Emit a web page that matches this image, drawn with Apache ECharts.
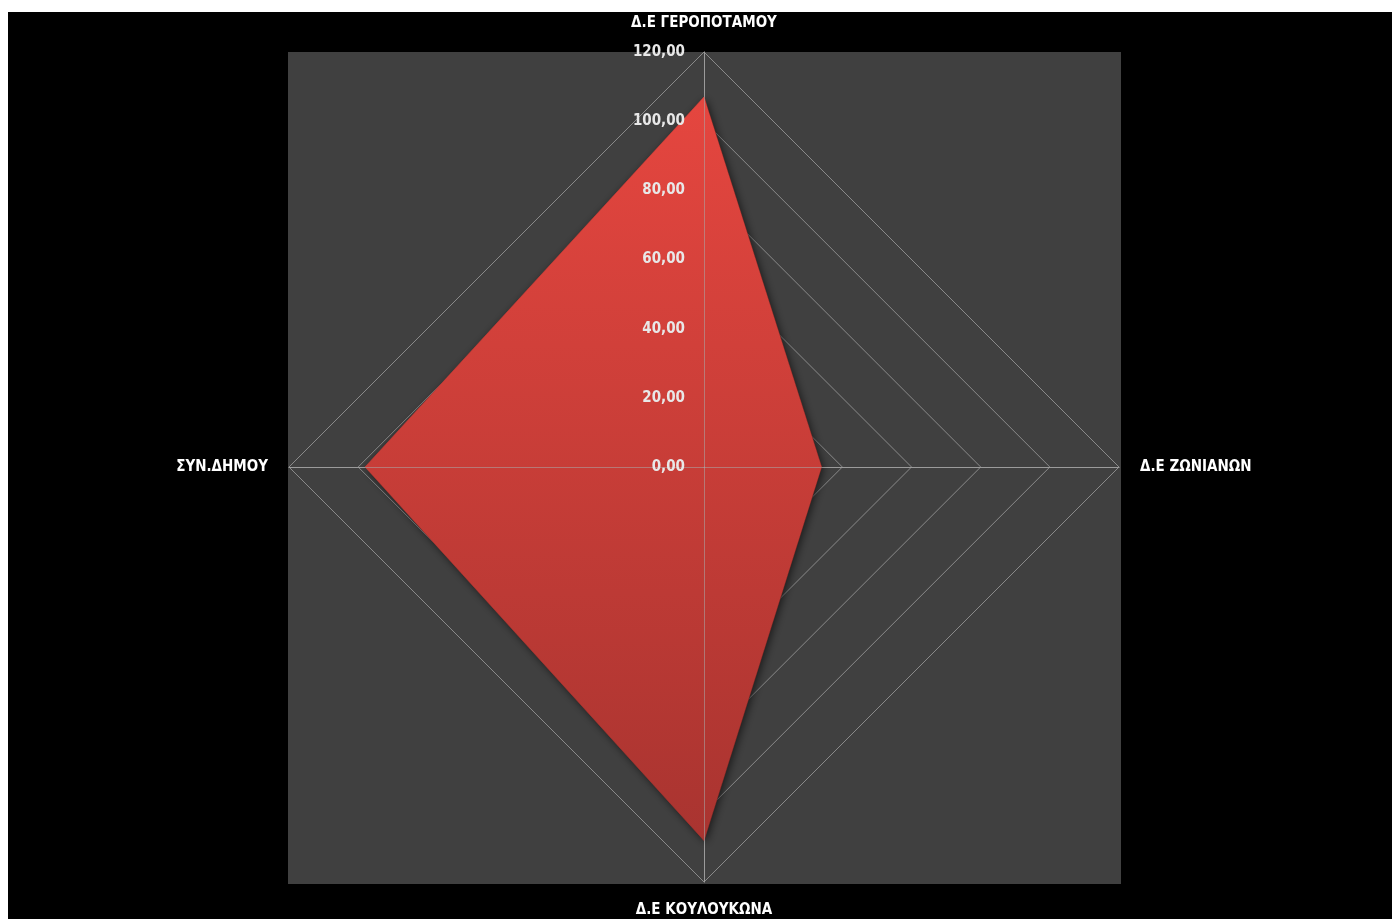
<!DOCTYPE html>
<html>
<head>
<meta charset="utf-8">
<script src="https://cdn.jsdelivr.net/npm/echarts@6/dist/echarts.min.js"></script>
<style>
html,body{margin:0;padding:0;background:#ffffff;width:1392px;height:919px;overflow:hidden;}
#chart{position:absolute;left:8px;top:12px;width:1384px;height:907px;background:#000;}
</style>
</head>
<body>
<div id="chart"></div>
<script>
// Indicators in ECharts order (counter-clockwise from top)
const categories = ['Δ.Ε ΓΕΡΟΠΟΤΑΜΟΥ', 'ΣΥΝ.ΔΗΜΟΥ', 'Δ.Ε ΚΟΥΛΟΥΚΩΝΑ', 'Δ.Ε ΖΩΝΙΑΝΩΝ'];
const values = [107.0, 98.0, 108.0, 34.0];
const axisMax = 120;
const axisInterval = 20;

const fmt = v => Number(v).toFixed(2).replace('.', ',');
const chart = echarts.init(document.getElementById('chart'));
const center = [696, 455];
const radius = 415;
const font = '"DejaVu Sans Condensed", "Liberation Sans Narrow", sans-serif';

const indicatorsBg = categories.map(n => ({ name: n, min: 0, max: axisMax }));
const indicatorsFg = categories.map((n, i) => ({
  name: n, min: 0, max: axisMax,
  axisLabel: i === 0 ? {
    show: true, showMinLabel: true, showMaxLabel: true,
    color: '#e8e8e8', fontSize: 15, fontWeight: 'bold', fontFamily: font,
    formatter: fmt, margin: 19, padding: [5, 0, 0, 0]
  } : { show: false }
}));

chart.setOption({
  backgroundColor: '#000000',
  animation: false,
  grid: { show: true, left: 280, top: 40, width: 833, height: 832, backgroundColor: '#404040', borderWidth: 0 },
  xAxis: { show: false, type: 'value' },
  yAxis: { show: false, type: 'value' },
  radar: [{
    z: 1,
    center: center, radius: radius, shape: 'polygon', startAngle: 90,
    splitNumber: axisMax / axisInterval,
    indicator: indicatorsBg,
    axisName: { color: '#ffffff', fontSize: 15, fontWeight: 'bold', fontFamily: font },
    nameGap: 21,
    splitLine: { show: true, lineStyle: { color: '#8a8a8a', width: 1 } },
    splitArea: { show: false },
    axisLine: { show: true, lineStyle: { color: '#8a8a8a', width: 1 } },
    axisTick: { show: false },
    axisLabel: { show: false }
  }, {
    z: 5,
    center: center, radius: radius, shape: 'polygon', startAngle: 90,
    splitNumber: axisMax / axisInterval,
    indicator: indicatorsFg,
    axisName: { show: false },
    splitLine: { show: false },
    splitArea: { show: false },
    axisLine: { show: true, lineStyle: { color: 'rgba(170,170,170,0.55)', width: 1 } },
    axisTick: { show: false }
  }],
  series: [{
    type: 'radar',
    radarIndex: 0,
    z: 3,
    symbol: 'none',
    lineStyle: { color: '#b8403b', width: 1 },
    areaStyle: {
      opacity: 1,
      color: { type: 'linear', x: 0, y: 0, x2: 0, y2: 1, colorStops: [
        { offset: 0, color: '#e5463f' }, { offset: 1, color: '#a93430' }
      ] },
      shadowBlur: 8, shadowColor: 'rgba(0,0,0,0.6)', shadowOffsetX: 2, shadowOffsetY: 2
    },
    data: [{ value: values, name: 'Series' }]
  }]
});
</script>
</body>
</html>
